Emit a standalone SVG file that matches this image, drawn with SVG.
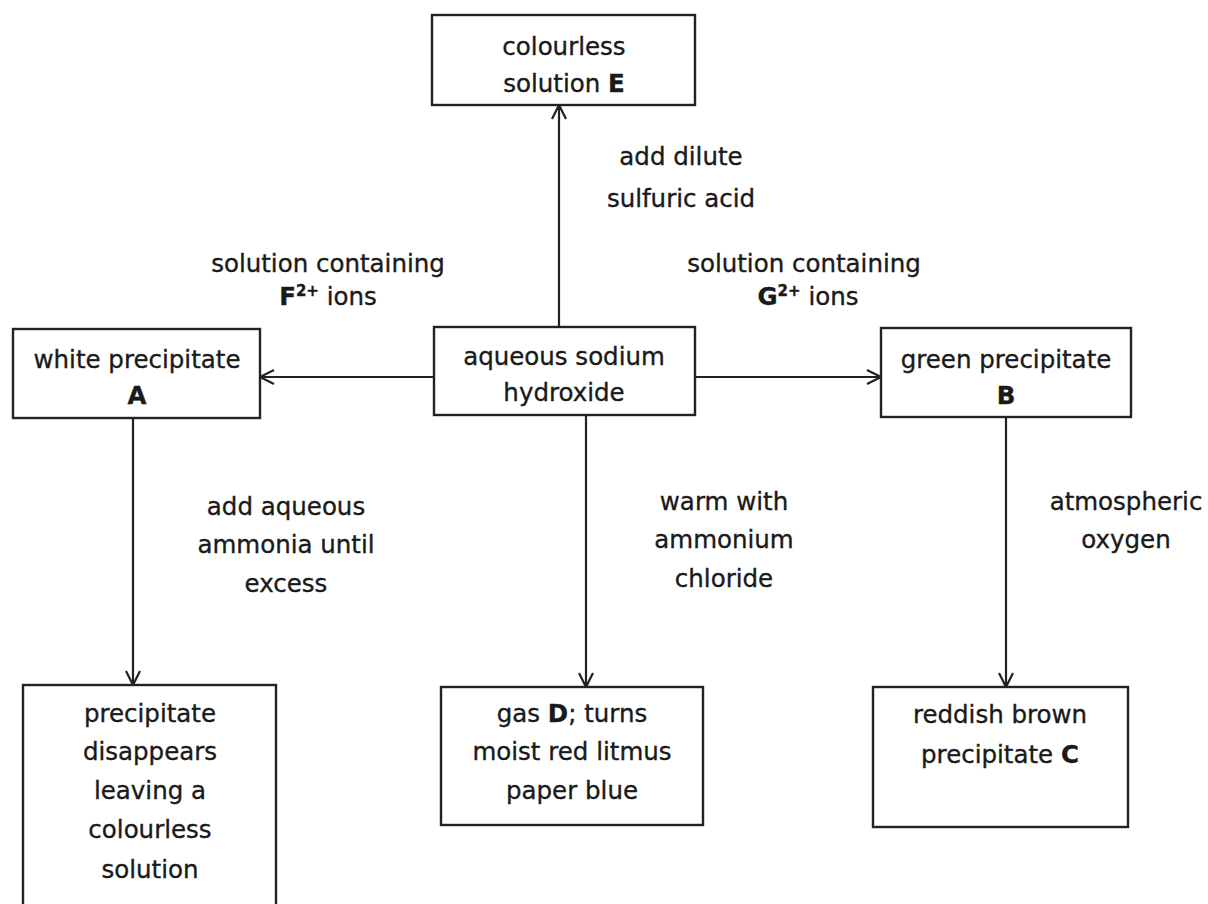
<svg xmlns="http://www.w3.org/2000/svg" width="1208" height="904" viewBox="0 0 1208 904">
<style>
text{font-family:"DejaVu Sans","Liberation Sans",sans-serif;font-size:24.5px;fill:#1a1a1a;stroke:#1a1a1a;stroke-width:0.35;text-anchor:middle}
.b{font-weight:bold}
.sup{font-size:15px}
rect{fill:#fff;stroke:#222;stroke-width:2.4}
.c line{stroke:#222;stroke-width:2.2}
</style>
<defs>
<marker id="ah" viewBox="0 0 16 16" refX="15" refY="8" markerWidth="16" markerHeight="16" markerUnits="userSpaceOnUse" orient="auto">
<path d="M1,1 L15,8 L1,15" fill="none" stroke="#222" stroke-width="2.2"/>
</marker>
</defs>
<rect x="0" y="0" width="1208" height="904" style="fill:#fff;stroke:none"/>
<g class="c" id="connectors">
<line x1="559" y1="327" x2="559" y2="105" marker-end="url(#ah)"/>
<line x1="434" y1="377" x2="260" y2="377" marker-end="url(#ah)"/>
<line x1="695" y1="377" x2="881" y2="377" marker-end="url(#ah)"/>
<line x1="133" y1="418" x2="133" y2="685" marker-end="url(#ah)"/>
<line x1="586" y1="415" x2="586" y2="687" marker-end="url(#ah)"/>
<line x1="1006" y1="417" x2="1006" y2="687" marker-end="url(#ah)"/>
</g>
<g id="labels">
<text x="328" y="272">solution containing</text>
<text x="328" y="305"><tspan class="b">F</tspan><tspan class="sup b" dy="-9">2+</tspan><tspan dy="9"> ions</tspan></text>
<text x="681" y="165">add dilute</text>
<text x="681" y="207">sulfuric acid</text>
<text x="804" y="272">solution containing</text>
<text x="808" y="305"><tspan class="b">G</tspan><tspan class="sup b" dy="-9">2+</tspan><tspan dy="9"> ions</tspan></text>
<text x="286" y="515">add aqueous</text>
<text x="286" y="553">ammonia until</text>
<text x="286" y="592">excess</text>
<text x="724" y="510">warm with</text>
<text x="724" y="548">ammonium</text>
<text x="724" y="587">chloride</text>
<text x="1126" y="510">atmospheric</text>
<text x="1126" y="548">oxygen</text>
</g>
<g id="nodeE">
<rect x="432" y="15" width="263" height="90"/>
<text x="564" y="55">colourless</text>
<text x="564" y="92">solution <tspan class="b">E</tspan></text>
</g>
<g id="nodeNaOH">
<rect x="434" y="327" width="261" height="88"/>
<text x="564" y="365">aqueous sodium</text>
<text x="564" y="401">hydroxide</text>
</g>
<g id="nodeA">
<rect x="13" y="329" width="247" height="89"/>
<text x="137" y="368">white precipitate</text>
<text x="137" y="404" class="b">A</text>
</g>
<g id="nodeB">
<rect x="881" y="328" width="250" height="89"/>
<text x="1006" y="368">green precipitate</text>
<text x="1006" y="404" class="b">B</text>
</g>
<g id="nodeSol">
<rect x="23" y="685" width="253" height="230"/>
<text x="150" y="722">precipitate</text>
<text x="150" y="760">disappears</text>
<text x="150" y="799">leaving a</text>
<text x="150" y="838">colourless</text>
<text x="150" y="878">solution</text>
</g>
<g id="nodeD">
<rect x="441" y="687" width="262" height="138"/>
<text x="572" y="722">gas <tspan class="b">D</tspan>; turns</text>
<text x="572" y="760">moist red litmus</text>
<text x="572" y="799">paper blue</text>
</g>
<g id="nodeC">
<rect x="873" y="687" width="255" height="140"/>
<text x="1000" y="723">reddish brown</text>
<text x="1000" y="763">precipitate <tspan class="b">C</tspan></text>
</g>
</svg>
